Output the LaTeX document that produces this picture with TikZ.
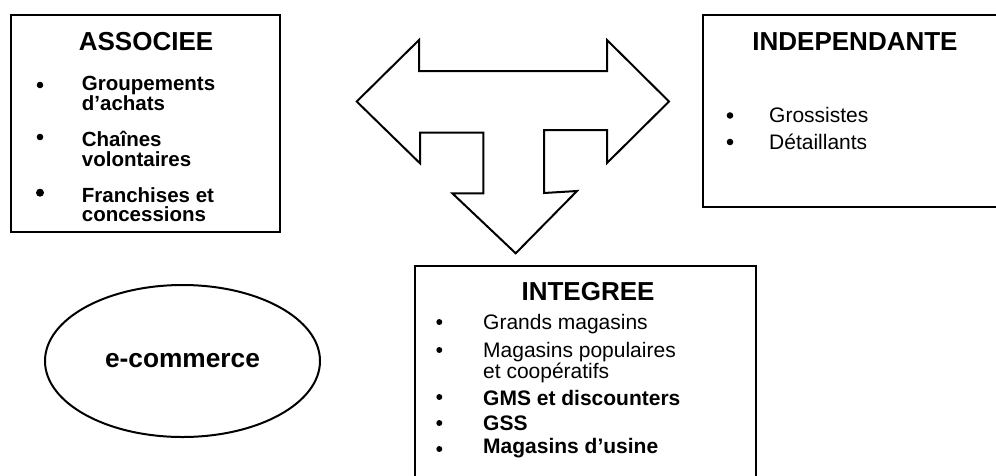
\documentclass[tikz,border=0pt]{standalone}
\usepackage{fontspec}
\setmainfont{Liberation Sans}
\usetikzlibrary{shapes.geometric}
\begin{document}
\begin{tikzpicture}[x=1pt,y=-1pt,
  boxline/.style={draw=black,line width=2pt,inner sep=0pt,anchor=north west},
  head/.style={font=\fontsize{26}{26}\selectfont\bfseries,anchor=base,inner sep=0pt},
  itembf/.style={font=\fontsize{20.5}{20}\selectfont\bfseries,anchor=base west,inner sep=0pt},
  itemrm/.style={font=\fontsize{21}{21}\selectfont,anchor=base west,inner sep=0pt},
  bul/.style={circle,fill=black,inner sep=0pt,minimum size=6.6pt}]
\useasboundingbox (0,0) rectangle (996,475);
% boxes
\node[boxline,minimum width=269pt,minimum height=217pt] (assoc) at (10,14) {};
\node[boxline,minimum width=341pt,minimum height=230pt] (integ) at (414,265) {};
\coordinate (indTR) at (998,15);
\coordinate (indTL) at (703,15);
\coordinate (indBL) at (703,207);
\coordinate (indBR) at (998,207);
\draw[line width=2pt] (indTR) -- (indTL) -- (indBL) -- (indBR);
% arrow
\draw[line width=2pt,line join=miter] (356.7,101.5) -- (419,40) -- (419,71) -- (607,71) -- (607,40) -- (669,101.5) -- (607,163) -- (607,130) -- (544,130) -- (544,193) -- (577,191) -- (515.7,253.3) -- (452.3,193.3) -- (483.3,193.3) -- (483.3,132.7) -- (420,132.7) -- (420,163.3) -- cycle;
% ASSOCIEE
\node[head] (hA) at (146,50.7) {ASSOCIEE};
\node[bul] (bA1) at (40,85) {};
\node[itembf] (tA1a) at (81.7,90.5) {Groupements};
\node[itembf] (tA1b) at (81.7,110.5) {d’achats};
\node[bul] (bA2) at (40,137) {};
\node[itembf] (tA2a) at (81.7,146) {Chaînes};
\node[itembf] (tA2b) at (81.7,166) {volontaires};
\node[bul,minimum size=8pt] (bA3) at (40,192.7) {};
\node[itembf] (tA3a) at (81.7,202) {Franchises et};
\node[itembf] (tA3b) at (81.7,221.7) {concessions};
% INDEPENDANTE
\node[head] (hI) at (855,50.7) {INDEPENDANTE};
\node[bul] (bI1) at (730,115.5) {};
\node[itemrm] (tI1) at (769,122.7) {Grossistes};
\node[bul] (bI2) at (730,142) {};
\node[itemrm] (tI2) at (769,149) {Détaillants};
% INTEGREE
\node[head] (hG) at (588,300) {INTEGREE};
\node[bul,minimum size=6pt] (bG1) at (439.3,322) {};
\node[itemrm] (tG1) at (483,329) {Grands magasins};
\node[bul,minimum size=6pt] (bG2) at (439.3,350) {};
\node[itemrm] (tG2a) at (483,357) {Magasins populaires};
\node[itemrm] (tG2b) at (483,378) {et coopératifs};
\node[bul,minimum size=6pt] (bG3) at (439.3,397) {};
\node[itembf,font=\fontsize{21}{21}\selectfont\bfseries] (tG3) at (483,405) {GMS et discounters};
\node[bul,minimum size=6pt] (bG4) at (439.3,423) {};
\node[itembf,font=\fontsize{21}{21}\selectfont\bfseries] (tG4) at (483,430) {GSS};
\node[bul,minimum size=6pt] (bG5) at (439.3,449) {};
\node[itembf,font=\fontsize{21}{21}\selectfont\bfseries] (tG5) at (483,453) {Magasins d’usine};
% ellipse
\node[ellipse,draw,line width=2pt,minimum width=275pt,minimum height=152pt,inner sep=0pt,
  font=\fontsize{26.3}{26.3}\selectfont\bfseries] (ecom) at (182.5,361) {e-commerce};
\end{tikzpicture}
\end{document}
